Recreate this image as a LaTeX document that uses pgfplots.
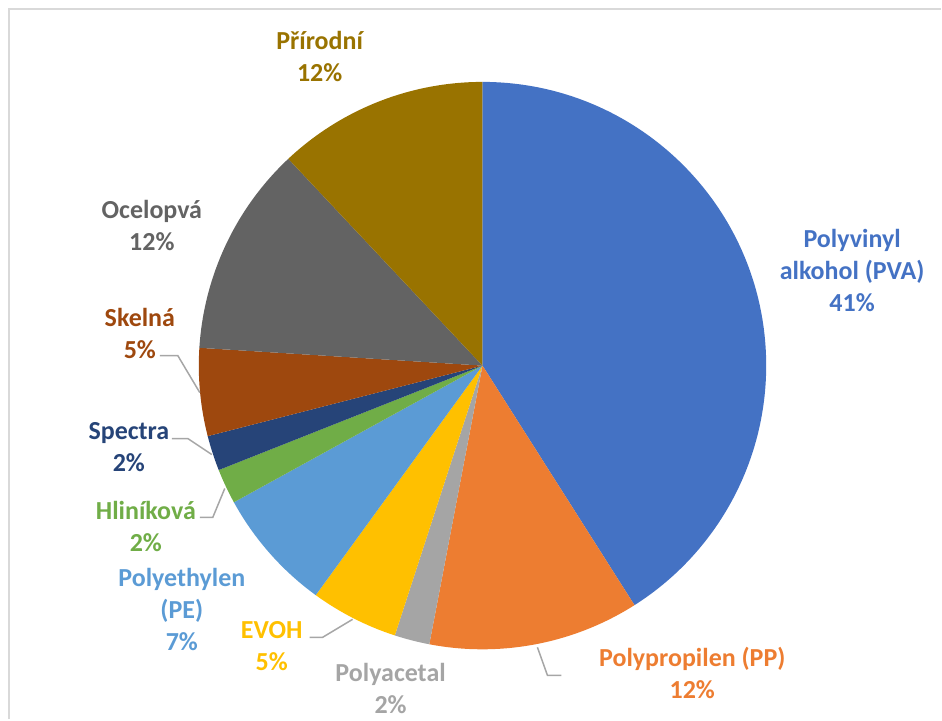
\documentclass[border=0pt]{standalone}
\usepackage{fontspec}
\setmainfont{Carlito}
\usepackage{pgfplots}
\usepackage{pgfplotstable}
\pgfplotsset{compat=1.18}

\definecolor{cPVA}{HTML}{4472C4}
\definecolor{cPP}{HTML}{ED7D31}
\definecolor{cPAC}{HTML}{A5A5A5}
\definecolor{cEVOH}{HTML}{FFC000}
\definecolor{cPE}{HTML}{5B9BD5}
\definecolor{cHLI}{HTML}{70AD47}
\definecolor{cSPE}{HTML}{264478}
\definecolor{cSKE}{HTML}{9E480E}
\definecolor{cOCE}{HTML}{636363}
\definecolor{cPRI}{HTML}{997300}
\definecolor{leader}{HTML}{A6A6A6}
\definecolor{frame}{HTML}{D9D9D9}

\tikzset{lbl/.style={align=center, font=\fontsize{26}{32}\selectfont\bfseries}}

% slice shares in percent, clockwise from 12 o'clock
\pgfplotstableread[col sep=comma]{
name,value,color
PVA,41,cPVA
PP,12,cPP
Polyacetal,2,cPAC
EVOH,5,cEVOH
PE,7,cPE
Hlinikova,2,cHLI
Spectra,2,cSPE
Skelna,5,cSKE
Ocelopva,12,cOCE
Prirodni,12,cPRI
}\piedata

\begin{document}
\begin{tikzpicture}
\begin{axis}[
    x=1pt, y=1pt,
    xmin=0, xmax=942, ymin=0, ymax=720,
    hide axis,
    clip=false,
]
% page extent and chart frame
\addplot[draw=none] coordinates {(0,0) (942,720)};
\addplot[frame, line width=2pt] coordinates {(9,0) (9,711) (942,711)};

% pie slices
\pgfplotsextra{
  \pgfplotstablegetrowsof{\piedata}
  \pgfmathtruncatemacro\nrows{\pgfplotsretval-1}
  \xdef\startang{90}
  \foreach \i in {0,...,\nrows}{
    \pgfplotstablegetelem{\i}{value}\of\piedata \let\v\pgfplotsretval
    \pgfplotstablegetelem{\i}{color}\of\piedata \let\col\pgfplotsretval
    \pgfmathsetmacro\endang{\startang-3.6*\v}
    \fill[fill=\col] (axis cs:483,354) -- ++(\startang:284pt)
      arc[start angle=\startang, end angle=\endang, radius=284pt] -- cycle;
    \xdef\startang{\endang}
  }
}

% leader lines
\addplot[leader, line width=1.5pt] coordinates {(160,364) (178,364) (200,327)};
\addplot[leader, line width=1.5pt] coordinates {(172,281) (188,281) (212,265)};
\addplot[leader, line width=1.5pt] coordinates {(200,202) (213,202) (225,231)};
\addplot[leader, line width=1.5pt] coordinates {(310,82) (323,82) (353,100)};
\addplot[leader, line width=1.5pt] coordinates {(538,72) (548,44) (562,44)};

% data labels
\node[lbl, text=cPVA] at (axis cs:853,449) {Polyvinyl\\alkohol (PVA)\\41\%};
\node[lbl, text=cPP] at (axis cs:693,46) {Polypropilen (PP)\\12\%};
\node[lbl, text=cPAC] at (axis cs:391,31) {Polyacetal\\2\%};
\node[lbl, text=cEVOH] at (axis cs:272,73) {EVOH\\5\%};
\node[lbl, text=cPE] at (axis cs:182,110) {Polyethylen\\(PE)\\7\%};
\node[lbl, text=cHLI] at (axis cs:146,193) {Hliníková\\2\%};
\node[lbl, text=cSPE] at (axis cs:129,272) {Spectra\\2\%};
\node[lbl, text=cSKE] at (axis cs:140,386) {Skelná\\5\%};
\node[lbl, text=cOCE] at (axis cs:152,494) {Ocelopvá\\12\%};
\node[lbl, text=cPRI] at (axis cs:320,663) {Přírodní\\12\%};
\end{axis}
\end{tikzpicture}
\end{document}
